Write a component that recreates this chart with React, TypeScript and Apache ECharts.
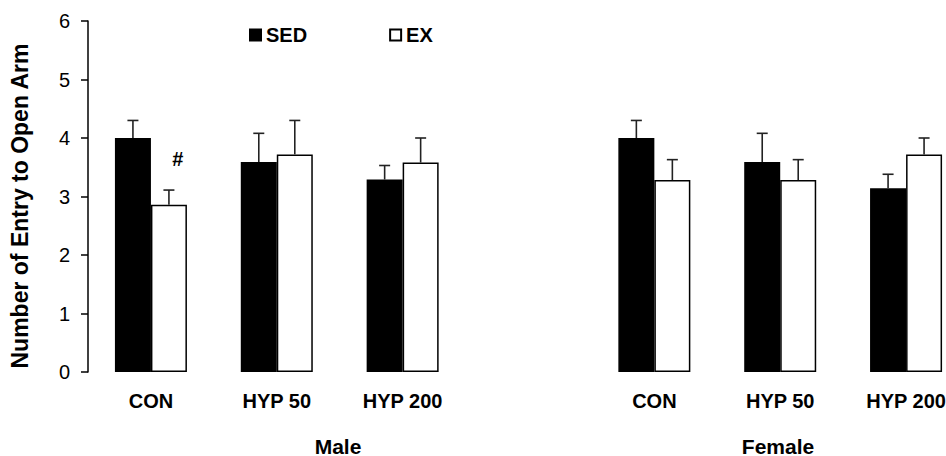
import React, { useEffect, useRef } from "react";
import * as echarts from "echarts";

const categories = ["CON", "HYP 50", "HYP 200", "", "CON", "HYP 50", "HYP 200"];
const sedValues: (number | string)[] = [4.0, 3.59, 3.29, "-", 4.0, 3.59, 3.14];
const sedErrors: (number | string)[] = [0.3, 0.49, 0.24, "-", 0.3, 0.49, 0.24];
const exValues: (number | string)[] = [2.86, 3.72, 3.58, "-", 3.28, 3.28, 3.72];
const exErrors: (number | string)[] = [0.25, 0.58, 0.42, "-", 0.35, 0.35, 0.28];
const seriesNames = ["SED", "EX"];
const groupLabels = ["Male", "Female"];
const yTitle = "Number of Entry to Open Arm";
const markText = "#";
const markIndex = 0;

const BAR_FRAC = 0.286;
const FONT = "'Liberation Sans', Arial, sans-serif";

function errorData(values: (number | string)[], errors: (number | string)[]) {
  const out: number[][] = [];
  values.forEach((v, i) => {
    if (typeof v === "number" && typeof errors[i] === "number") {
      out.push([i, v, errors[i] as number]);
    }
  });
  return out;
}

function makeRender(offset: number) {
  return (params: any, api: any) => {
    const cat = api.value(0);
    const v = api.value(1);
    const e = api.value(2);
    const base = api.coord([cat, v]);
    const top = api.coord([cat, v + e]);
    const bw = api.size([1, 0])[0] * BAR_FRAC;
    const x = base[0] + (offset * bw) / 2;
    const style = { stroke: "#222", lineWidth: 1.6 };
    return {
      type: "group",
      children: [
        { type: "line", shape: { x1: x, y1: base[1], x2: x, y2: top[1] }, style },
        { type: "line", shape: { x1: x - 5.5, y1: top[1], x2: x + 5.5, y2: top[1] }, style },
      ],
    };
  };
}

export default function App() {
  const ref = useRef<HTMLDivElement>(null);
  useEffect(() => {
    if (!ref.current) return;
    const chart = echarts.init(ref.current, undefined, { renderer: "svg" });
    const exData = exValues.map((v, i) =>
      i === markIndex
        ? {
            value: v,
            label: {
              show: true,
              position: "top",
              formatter: markText,
              distance: 36,
              offset: [9, 0],
              color: "#000",
              fontSize: 20,
              fontWeight: "bold",
              fontFamily: FONT,
            },
          }
        : v
    );
    chart.setOption({
      animation: false,
      backgroundColor: "#fff",
      textStyle: { fontFamily: FONT },
      grid: {
        left: 88,
        top: 21,
        width: 881,
        height: 351,
        containLabel: false,
        outerBoundsMode: "none",
      },
      legend: {
        data: seriesNames,
        left: 244,
        top: 20,
        itemWidth: 11,
        itemHeight: 11,
        itemGap: 82,
        icon: "rect",
        textStyle: { fontSize: 20, fontWeight: "bold", color: "#000", fontFamily: FONT },
      },
      xAxis: {
        type: "category",
        data: categories,
        axisLine: { show: false },
        axisTick: { show: false },
        axisLabel: {
          interval: 0,
          margin: 19,
          fontSize: 20,
          fontWeight: "bold",
          color: "#000",
          fontFamily: FONT,
        },
      },
      yAxis: {
        type: "value",
        min: 0,
        max: 6,
        interval: 1,
        axisLine: { show: true, lineStyle: { color: "#000", width: 1.5 } },
        axisTick: { show: true, length: 7, lineStyle: { color: "#000", width: 1.5 } },
        axisLabel: { margin: 18, fontSize: 20, color: "#000", fontFamily: FONT },
        splitLine: { show: false },
      },
      graphic: [
        {
          type: "text",
          x: 20,
          y: 206,
          rotation: Math.PI / 2,
          style: {
            text: yTitle,
            align: "center",
            verticalAlign: "middle",
            fontSize: 23,
            fontWeight: "bold",
            fontFamily: FONT,
            fill: "#000",
          },
        },
        {
          type: "text",
          x: 338,
          y: 446,
          style: {
            text: groupLabels[0],
            align: "center",
            verticalAlign: "middle",
            fontSize: 21,
            fontWeight: "bold",
            fontFamily: FONT,
            fill: "#000",
          },
        },
        {
          type: "text",
          x: 778,
          y: 446,
          style: {
            text: groupLabels[1],
            align: "center",
            verticalAlign: "middle",
            fontSize: 21,
            fontWeight: "bold",
            fontFamily: FONT,
            fill: "#000",
          },
        },
      ],
      series: [
        {
          name: seriesNames[0],
          type: "bar",
          data: sedValues,
          barWidth: (BAR_FRAC * 100).toFixed(1) + "%",
          barGap: "0%",
          itemStyle: { color: "#000", borderColor: "#000", borderWidth: 1.5 },
        },
        {
          name: seriesNames[1],
          type: "bar",
          data: exData,
          barWidth: (BAR_FRAC * 100).toFixed(1) + "%",
          barGap: "0%",
          itemStyle: { color: "#fff", borderColor: "#000", borderWidth: 1.5 },
        },
        {
          type: "custom",
          renderItem: makeRender(-1),
          data: errorData(sedValues, sedErrors),
          encode: { x: 0, y: 1 },
          z: 5,
        },
        {
          type: "custom",
          renderItem: makeRender(1),
          data: errorData(exValues, exErrors),
          encode: { x: 0, y: 1 },
          z: 5,
        },
      ],
    });
    return () => chart.dispose();
  }, []);
  return (
    <div
      ref={ref}
      style={{ position: "fixed", left: 0, top: 0, width: 946, height: 456 }}
    />
  );
}
